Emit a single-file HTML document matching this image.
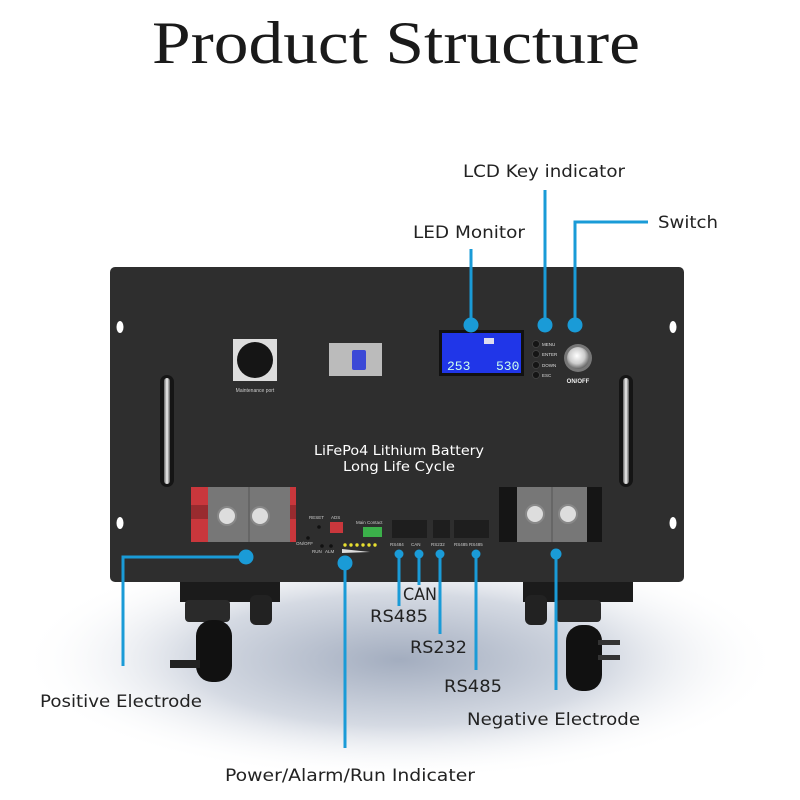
<!DOCTYPE html>
<html><head><meta charset="utf-8"><style>
html,body{margin:0;padding:0;background:#fff;}
body{width:800px;height:800px;overflow:hidden;position:relative;}
svg{position:absolute;left:0;top:0;}
</style></head><body>
<svg width="800" height="800" viewBox="0 0 800 800" xmlns="http://www.w3.org/2000/svg">
<defs>
<radialGradient id="sh" cx="50%" cy="50%" r="50%">
<stop offset="0" stop-color="#a3adbf"/><stop offset="0.55" stop-color="#d5dae3"/><stop offset="1" stop-color="#fff" stop-opacity="0"/>
</radialGradient>
<linearGradient id="hd" x1="0" x2="1"><stop offset="0" stop-color="#666"/><stop offset="0.5" stop-color="#f4f4f4"/><stop offset="1" stop-color="#555"/></linearGradient>
<radialGradient id="kn" cx="45%" cy="40%" r="60%"><stop offset="0" stop-color="#fff"/><stop offset="0.6" stop-color="#ccc"/><stop offset="1" stop-color="#666"/></radialGradient>
</defs>
<ellipse cx="400" cy="660" rx="380" ry="120" fill="url(#sh)"/>
<text x="152" y="63" font-family="Liberation Serif, serif" font-size="60" textLength="488" lengthAdjust="spacingAndGlyphs" fill="#1a1a1a">Product Structure</text>
<!-- feet / wheels -->
<rect x="180" y="580" width="100" height="22" fill="#1b1b1b"/>
<rect x="523" y="580" width="110" height="22" fill="#1b1b1b"/>
<rect x="250" y="595" width="22" height="30" rx="6" fill="#222"/>
<rect x="525" y="595" width="22" height="30" rx="6" fill="#222"/>
<rect x="185" y="600" width="45" height="22" rx="4" fill="#2a2a2a"/>
<rect x="556" y="600" width="45" height="22" rx="4" fill="#2a2a2a"/>
<rect x="196" y="620" width="36" height="62" rx="16" fill="#111"/>
<rect x="170" y="660" width="30" height="8" fill="#222"/>
<rect x="566" y="625" width="36" height="66" rx="16" fill="#111"/>
<rect x="598" y="640" width="22" height="5" fill="#333"/>
<rect x="598" y="655" width="22" height="5" fill="#333"/>
<!-- panel -->
<rect x="110" y="267" width="574" height="315" rx="5" fill="#2e2e2e"/>
<ellipse cx="120" cy="327" rx="3.5" ry="6" fill="#fff"/>
<ellipse cx="673" cy="327" rx="3.5" ry="6" fill="#fff"/>
<ellipse cx="120" cy="523" rx="3.5" ry="6" fill="#fff"/>
<ellipse cx="673" cy="523" rx="3.5" ry="6" fill="#fff"/>
<rect x="160" y="375" width="14" height="112" rx="7" fill="#151515"/>
<rect x="164" y="378" width="6" height="106" rx="3" fill="url(#hd)"/>
<rect x="619" y="375" width="14" height="112" rx="7" fill="#151515"/>
<rect x="623" y="378" width="6" height="106" rx="3" fill="url(#hd)"/>
<rect x="233" y="339" width="44" height="42" fill="#ddd"/>
<circle cx="255" cy="360" r="18" fill="#151515"/>
<text x="255" y="392" font-family="Liberation Sans, sans-serif" font-size="5" fill="#ccc" text-anchor="middle">Maintenance port</text>
<rect x="329" y="343" width="53" height="33" fill="#bbb"/>
<rect x="352" y="350" width="14" height="20" rx="2" fill="#3b49d6"/>
<rect x="439" y="330" width="85" height="46" fill="#111"/>
<rect x="442" y="333" width="79" height="40" fill="#2036e8"/>
<text x="447" y="370" font-family="Liberation Mono, monospace" font-size="13" fill="#cfe">253</text>
<text x="496" y="370" font-family="Liberation Mono, monospace" font-size="13" fill="#cfe">530</text>
<rect x="484" y="338" width="10" height="6" fill="#dde"/>
<g fill="#151515" stroke="#444" stroke-width="0.8">
<circle cx="536" cy="344" r="3.5"/><circle cx="536" cy="354" r="3.5"/><circle cx="536" cy="365" r="3.5"/><circle cx="536" cy="375" r="3.5"/></g>
<g font-family="Liberation Sans, sans-serif" font-size="4.5" fill="#ddd">
<text x="542" y="346">MENU</text><text x="542" y="356">ENTER</text><text x="542" y="367">DOWN</text><text x="542" y="377">ESC</text></g>
<circle cx="578" cy="358" r="14" fill="#777"/><circle cx="578" cy="358" r="11" fill="url(#kn)"/>
<text x="578" y="383" font-family="Liberation Sans, sans-serif" font-size="6" font-weight="bold" fill="#eee" text-anchor="middle">ON/OFF</text>
<text x="314" y="455" font-family="DejaVu Sans, sans-serif" font-size="13" textLength="170" lengthAdjust="spacingAndGlyphs" fill="#fff">LiFePo4 Lithium Battery</text>
<text x="343" y="471" font-family="DejaVu Sans, sans-serif" font-size="13" textLength="112" lengthAdjust="spacingAndGlyphs" fill="#fff">Long Life Cycle</text>
<!-- positive terminal -->
<rect x="191" y="487" width="105" height="55" fill="#c9373c"/>
<rect x="191" y="505" width="105" height="14" fill="#6a1f22" opacity="0.5"/>
<rect x="208" y="487" width="82" height="55" fill="#777"/>
<line x1="249" y1="487" x2="249" y2="542" stroke="#555"/>
<circle cx="227" cy="516" r="9" fill="#ddd" stroke="#888" stroke-width="2"/>
<circle cx="260" cy="516" r="9" fill="#ddd" stroke="#888" stroke-width="2"/>
<!-- negative terminal -->
<rect x="499" y="487" width="103" height="55" fill="#151515"/>
<rect x="517" y="487" width="70" height="55" fill="#777"/>
<line x1="552" y1="487" x2="552" y2="542" stroke="#555"/>
<circle cx="535" cy="514" r="9" fill="#ddd" stroke="#888" stroke-width="2"/>
<circle cx="568" cy="514" r="9" fill="#ddd" stroke="#888" stroke-width="2"/>
<!-- controls -->
<g font-family="Liberation Sans, sans-serif" font-size="4.5" fill="#ccc">
<text x="309" y="519">RESET</text><text x="331" y="519">ADS</text><text x="356" y="524">Main Contact</text>
<text x="296" y="545">ON/OFF</text><text x="312" y="553">RUN</text><text x="325" y="553">ALM</text>
<text x="390" y="546">RS484</text><text x="411" y="546">CAN</text><text x="431" y="546">RS232</text><text x="454" y="546">RS485 RS485</text></g>
<circle cx="319" cy="527" r="1.8" fill="#111"/><circle cx="308" cy="538" r="1.8" fill="#111"/>
<circle cx="322" cy="546" r="1.8" fill="#111"/><circle cx="331" cy="546" r="1.8" fill="#111"/>
<rect x="330" y="522" width="13" height="11" fill="#c9373c"/>
<rect x="363" y="527" width="19" height="10" fill="#3bb04a"/>
<g fill="#e8e030"><circle cx="345" cy="545" r="1.7"/><circle cx="351" cy="545" r="1.7"/><circle cx="357" cy="545" r="1.7"/><circle cx="363" cy="545" r="1.7"/><circle cx="369" cy="545" r="1.7"/><circle cx="375" cy="545" r="1.7"/></g>
<polygon points="342,549 370,552 342,553" fill="#ddd"/>
<g fill="#1e1e1e"><rect x="392" y="520" width="35" height="18"/><rect x="433" y="520" width="17" height="18"/><rect x="454" y="520" width="35" height="18"/></g>
<!-- connectors -->
<g stroke="#1a9bd7" stroke-width="3" fill="none">
<line x1="471" y1="249" x2="471" y2="325"/>
<line x1="545" y1="190" x2="545" y2="325"/>
<polyline points="648,222 575,222 575,325"/>
<polyline points="246,557 123,557 123,666"/>
<line x1="345" y1="563" x2="345" y2="748"/>
<line x1="399" y1="554" x2="399" y2="606"/>
<line x1="419" y1="554" x2="419" y2="585"/>
<line x1="440" y1="554" x2="440" y2="634"/>
<line x1="476" y1="554" x2="476" y2="670"/>
<line x1="556" y1="554" x2="556" y2="690"/>
</g>
<g fill="#1a9bd7">
<circle cx="471" cy="325" r="7.5"/><circle cx="545" cy="325" r="7.5"/><circle cx="575" cy="325" r="7.5"/>
<circle cx="246" cy="557" r="7.5"/><circle cx="345" cy="563" r="7.5"/>
<circle cx="399" cy="554" r="4.5"/><circle cx="419" cy="554" r="4.5"/><circle cx="440" cy="554" r="4.5"/><circle cx="476" cy="554" r="4.5"/><circle cx="556" cy="554" r="5.5"/>
</g>
<g font-family="DejaVu Sans, sans-serif" font-size="17" fill="#222" lengthAdjust="spacingAndGlyphs">
<text x="463" y="177" textLength="162" lengthAdjust="spacingAndGlyphs">LCD Key indicator</text>
<text x="658" y="228" textLength="60" lengthAdjust="spacingAndGlyphs">Switch</text>
<text x="413" y="238" textLength="112" lengthAdjust="spacingAndGlyphs">LED Monitor</text>
<text x="40" y="707" textLength="162" lengthAdjust="spacingAndGlyphs">Positive Electrode</text>
<text x="225" y="781" textLength="250" lengthAdjust="spacingAndGlyphs">Power/Alarm/Run Indicater</text>
<text x="403" y="600" textLength="34" lengthAdjust="spacingAndGlyphs">CAN</text>
<text x="370" y="622" textLength="58" lengthAdjust="spacingAndGlyphs">RS485</text>
<text x="410" y="653" textLength="57" lengthAdjust="spacingAndGlyphs">RS232</text>
<text x="444" y="692" textLength="58" lengthAdjust="spacingAndGlyphs">RS485</text>
<text x="467" y="725" textLength="173" lengthAdjust="spacingAndGlyphs">Negative Electrode</text>
</g>
</svg>
</body></html>
